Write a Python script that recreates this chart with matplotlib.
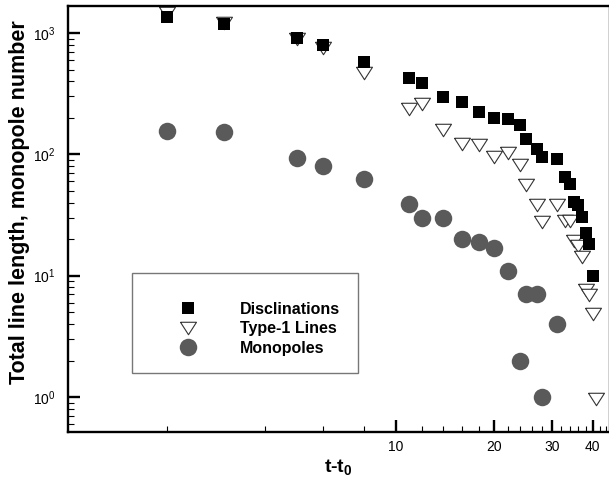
import matplotlib
matplotlib.use("Agg")
import matplotlib.pyplot as plt
from matplotlib.patches import Rectangle
from matplotlib.ticker import FixedLocator, NullFormatter, LogLocator
import numpy as np

plt.rcParams['font.family'] = 'Liberation Sans'
plt.rcParams['mathtext.fontset'] = 'custom'
plt.rcParams['mathtext.rm'] = 'Liberation Sans'
plt.rcParams['mathtext.it'] = 'Liberation Sans:italic'
plt.rcParams['mathtext.bf'] = 'Liberation Sans:bold'

# data
t_disc = [2, 3, 5, 6, 8, 11, 12, 14, 16, 18, 20, 22, 24, 25, 27, 28, 31,
          33, 34, 35, 36, 37, 38, 39, 40]
disclinations = [1346, 1186, 904, 796, 579, 424, 389, 298, 270, 222, 199, 195,
                 173, 134, 110, 95.5, 91.5, 64.7, 57, 40.7, 38.3, 30.6, 22.4,
                 18.2, 9.9]

t_type1 = [2, 3, 5, 6, 8, 11, 12, 14, 16, 18, 20, 22, 24, 25, 27, 28, 31,
           33, 34, 35, 36, 37, 38, 39, 40, 41]
type1_lines = [1470, 1216, 893, 748, 468, 237, 261, 160, 122, 119, 95, 103,
               82, 56, 38.5, 27.7, 38.2, 28.3, 28, 19.2, 17.5, 14.3, 7.66,
               6.93, 4.85, 0.97]

t_mono = [2, 3, 5, 6, 8, 11, 12, 14, 16, 18, 20, 22, 24, 25, 27, 28, 31]
monopoles = [156, 154, 93, 80, 63, 39, 30, 30, 20, 19, 17, 11, 2, 7, 7, 1, 4]

x_major = [10, 20, 30, 40]
x_labels = ['10', '20', '30', '40']
x_minor = [2, 4, 6, 8, 12, 14, 16, 18, 22, 24, 26, 28, 32, 34, 36, 38, 42, 44]

fig = plt.figure(figsize=(6.09, 4.79), dpi=100)
ax = fig.add_axes([0.1117, 0.0981, 0.8893, 0.8894])

# wide, flat down-triangle like the original
tri = [(-1, 0.78), (1, 0.78), (0, -0.78), (-1, 0.78)]

l2, = ax.plot(t_type1, type1_lines, linestyle='none', marker=tri, ms=11.5,
              mfc='white', mec='#333333', mew=0.8, zorder=2)
l1, = ax.plot(t_disc, disclinations, linestyle='none', marker='s', ms=8.9,
              mfc='black', mec='black', mew=0, zorder=3)
l3, = ax.plot(t_mono, monopoles, linestyle='none', marker='o', ms=12.6,
              mfc='#5a5a5a', mec='#5a5a5a', mew=0, zorder=4)

ax.set_xscale('log')
ax.set_yscale('log')
ax.set_xlim(1, 45)
ax.set_ylim(0.515, 1670)

ax.xaxis.set_major_locator(FixedLocator(x_major))
ax.set_xticklabels(x_labels)
ax.xaxis.set_minor_locator(FixedLocator(x_minor))
ax.xaxis.set_minor_formatter(NullFormatter())
ax.yaxis.set_major_locator(LogLocator(base=10, numticks=10))
ax.yaxis.set_minor_locator(LogLocator(base=10, subs=np.arange(2, 10), numticks=20))
ax.yaxis.set_minor_formatter(NullFormatter())

ax.tick_params(which='both', direction='in', top=False, right=False)
ax.tick_params(which='major', length=8.5, width=1.7, labelsize=10)
ax.tick_params(which='minor', length=4.5, width=0.8)
ax.tick_params(axis='y', which='major', pad=9)
ax.tick_params(axis='x', which='major', pad=6)
for s in ax.spines.values():
    s.set_linewidth(1.7)

ax.set_ylabel('Total line length, monopole number', fontsize=15.5,
              fontweight='bold')
ax.yaxis.set_label_coords(-0.071, 0.539)
ax.set_xlabel(r't-t$_\mathbf{0}$', fontsize=14, fontweight='bold', labelpad=2)

# legend box
ax.add_patch(Rectangle((0.1176, 0.1378), 0.418, 0.2347, transform=ax.transAxes,
                       fill=False, ec='#777777', lw=1, zorder=5))
ax.legend([l1, l2, l3], ['Disclinations', 'Type-1 Lines', 'Monopoles'],
          loc='upper left', bbox_to_anchor=(0.2075, 0.306), frameon=False,
          borderpad=0, borderaxespad=0, handlelength=1.0, handletextpad=2.7,
          labelspacing=0.29, numpoints=1,
          prop={'weight': 'bold', 'size': 11.5})

fig.savefig('out.png', dpi=100)
